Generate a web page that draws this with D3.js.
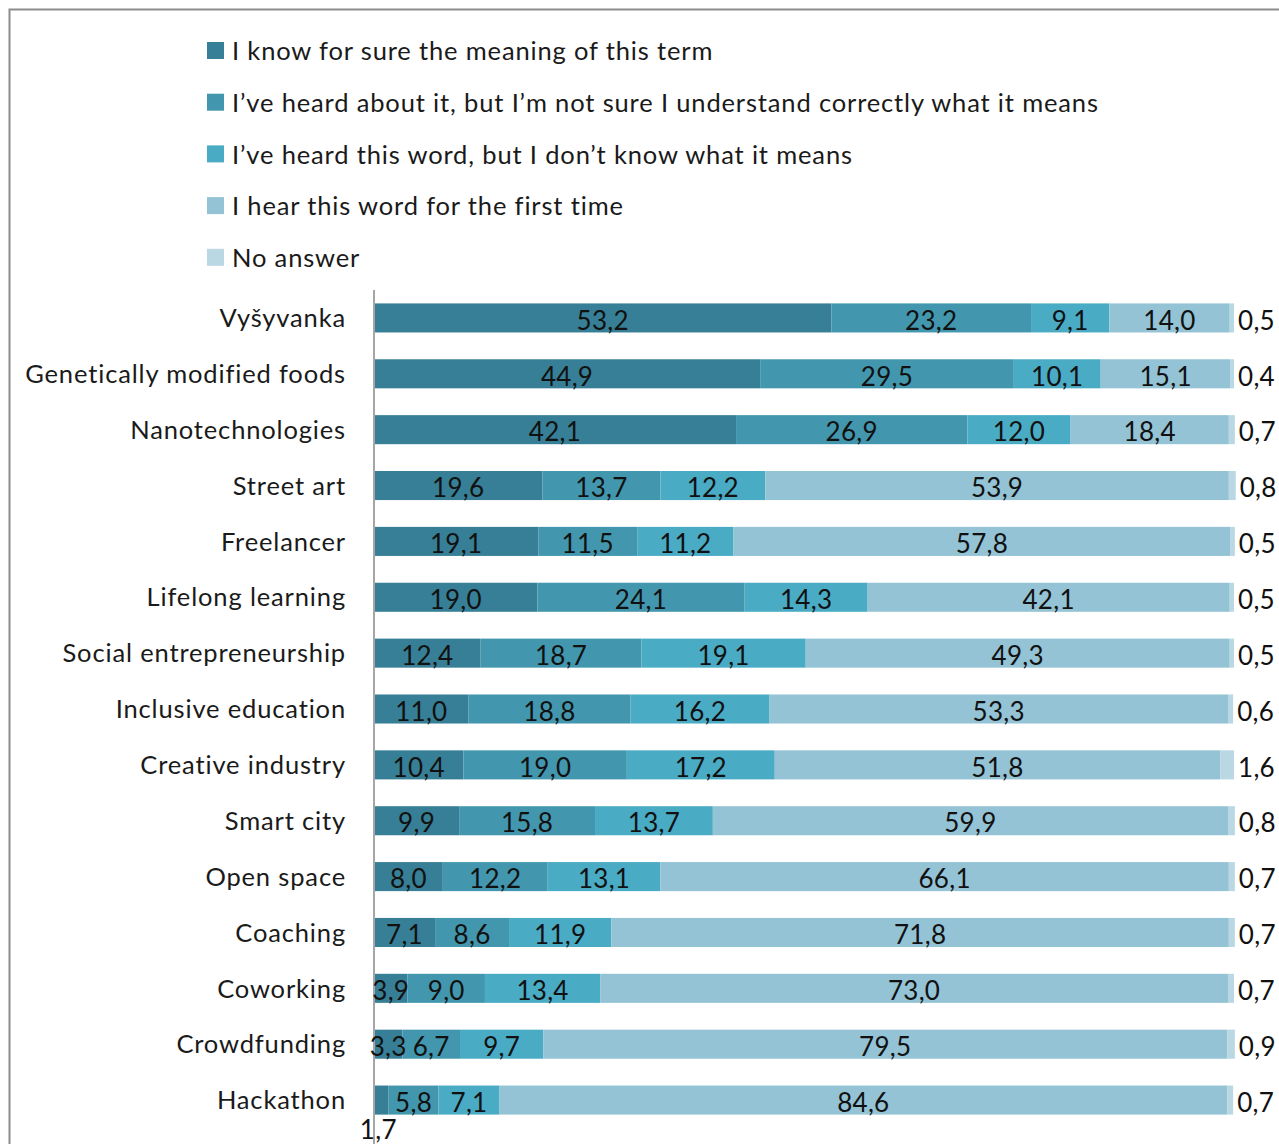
<!DOCTYPE html>
<html>
<head>
<meta charset="utf-8">
<script src="https://cdn.jsdelivr.net/npm/d3@7/dist/d3.min.js"></script>
<style>
  html, body { margin: 0; padding: 0; background: #fff; }
  svg { display: block; font-family: Lato, "Open Sans", sans-serif; }
  .lbl { font-size: 25.5px; letter-spacing: 0.85px; fill: #1a1a1a; }
  .num { font-size: 26px; letter-spacing: 0.3px; fill: #111; }
</style>
</head>
<body>
<svg id="chart" width="1279" height="1144"></svg>
<script>
// Survey terms, top to bottom
const categories = [
  "Vyšyvanka", "Genetically modified foods", "Nanotechnologies", "Street art",
  "Freelancer", "Lifelong learning", "Social entrepreneurship", "Inclusive education",
  "Creative industry", "Smart city", "Open space", "Coaching", "Coworking",
  "Crowdfunding", "Hackathon"
];

// Answer options (legend order)
const seriesNames = [
  "I know for sure the meaning of this term",
  "I\u2019ve heard about it, but I\u2019m not sure I understand correctly what it means",
  "I\u2019ve heard this word, but I don\u2019t know what it means",
  "I hear this word for the first time",
  "No answer"
];

// Share of respondents, %, one array per answer option
const knowSure     = [53.2, 44.9, 42.1, 19.6, 19.1, 19.0, 12.4, 11.0, 10.4, 9.9, 8.0, 7.1, 3.9, 3.3, 1.7];
const heardNotSure = [23.2, 29.5, 26.9, 13.7, 11.5, 24.1, 18.7, 18.8, 19.0, 15.8, 12.2, 8.6, 9.0, 6.7, 5.8];
const heardNoIdea  = [9.1, 10.1, 12.0, 12.2, 11.2, 14.3, 19.1, 16.2, 17.2, 13.7, 13.1, 11.9, 13.4, 9.7, 7.1];
const firstTime    = [14.0, 15.1, 18.4, 53.9, 57.8, 42.1, 49.3, 53.3, 51.8, 59.9, 66.1, 71.8, 73.0, 79.5, 84.6];
const noAnswer     = [0.5, 0.4, 0.7, 0.8, 0.5, 0.5, 0.5, 0.6, 1.6, 0.8, 0.7, 0.7, 0.7, 0.9, 0.7];

const seriesValues = [knowSure, heardNotSure, heardNoIdea, firstTime, noAnswer];
const colors = ["#377f96", "#4297ae", "#4aabc5", "#93c3d5", "#b9d8e4"];

const svg = d3.select("#chart");

// Outer frame
svg.append("rect")
  .attr("x", 9.5).attr("y", 9.5)
  .attr("width", 1300).attr("height", 1200)
  .attr("fill", "none").attr("stroke", "#8c8c8c").attr("stroke-width", 2);

// Legend
const legend = svg.append("g");
seriesNames.forEach((name, i) => {
  const ly = 51 + i * 51.7;
  legend.append("rect")
    .attr("x", 207).attr("y", ly - 9).attr("width", 17).attr("height", 17)
    .attr("fill", colors[i]);
  legend.append("text")
    .attr("class", "lbl")
    .attr("x", 232).attr("y", ly).attr("dy", "0.36em")
    .text(name);
});

// Stacked bars
const x = d3.scaleLinear().domain([0, 100]).range([374, 1234]);
const y = d3.scaleBand().domain(categories).range([290, 1128]).paddingInner(0.48).paddingOuter(0.24);

const rows = categories.map((c, r) => {
  let acc = 0;
  return seriesValues.map((vals, s) => {
    const seg = { cat: c, s, v: vals[r], x0: acc, x1: acc + vals[r] };
    acc += vals[r];
    return seg;
  });
});

const fmt = v => v.toFixed(1).replace(".", ",");

const barG = svg.append("g");
rows.forEach(segs => {
  segs.forEach(d => {
    barG.append("rect")
      .attr("x", x(d.x0)).attr("y", y(d.cat))
      .attr("width", x(d.x1) - x(d.x0)).attr("height", y.bandwidth())
      .attr("fill", colors[d.s]);
  });
});

// Category axis line (drawn beneath the labels)
svg.append("line")
  .attr("x1", 374).attr("x2", 374).attr("y1", 290).attr("y2", 1144)
  .attr("stroke", "#a6a6a6").attr("stroke-width", 2);

// Value labels
const lblG = svg.append("g");
rows.forEach(segs => {
  segs.forEach(d => {
    const cy = y(d.cat) + y.bandwidth() / 2;
    const t = lblG.append("text").attr("class", "num").attr("dy", "0.45em").text(fmt(d.v));
    if (d.s === 4) {
      t.attr("x", x(d.x1) + 4).attr("y", cy);
    } else if (d.cat === "Hackathon" && d.s === 0) {
      // too narrow to hold its label: put it under the bar
      t.attr("x", (x(d.x0) + x(d.x1)) / 2 - 3).attr("y", y(d.cat) + y.bandwidth() + 13)
        .attr("text-anchor", "middle");
    } else {
      t.attr("x", (x(d.x0) + x(d.x1)) / 2).attr("y", cy)
        .attr("text-anchor", "middle");
    }
  });
});

// Category labels
const yAxis = d3.axisLeft(y).tickSize(0).tickPadding(28);
const axG = svg.append("g").attr("transform", "translate(374,0)").call(yAxis);
axG.select(".domain").remove();
axG.selectAll("text").attr("class", "lbl").attr("fill", null).attr("dy", "0.36em");
axG.attr("font-size", null).attr("font-family", null);
</script>
</body>
</html>
